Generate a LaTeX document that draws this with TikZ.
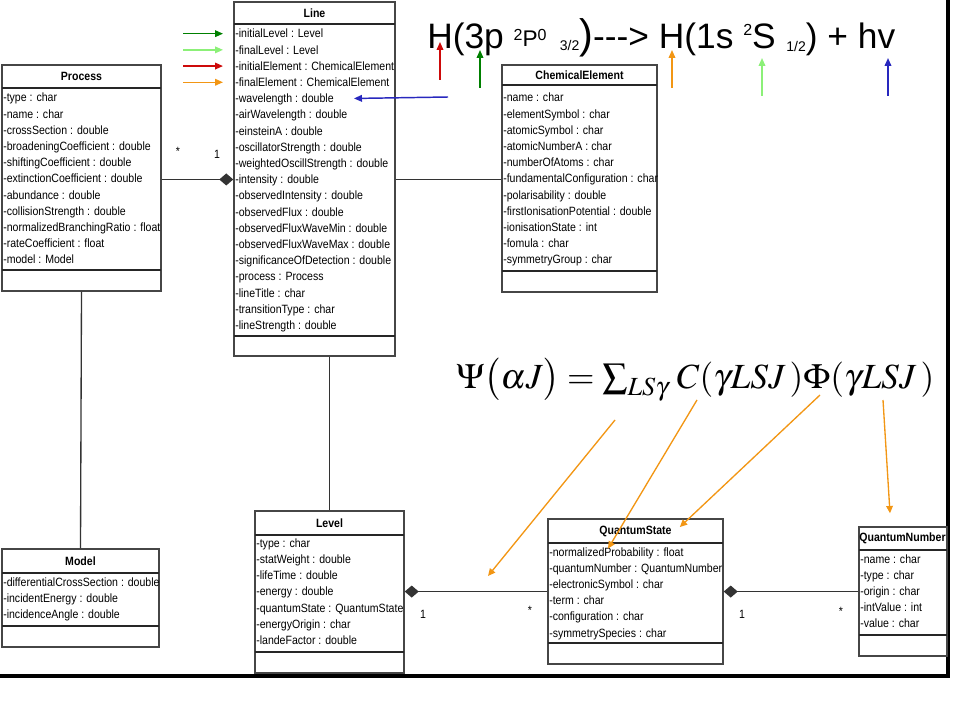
\documentclass[tikz,border=0pt]{standalone}
\usepackage{mathptmx}
\usepackage{fontspec}
\setmainfont{Liberation Sans}
\newfontfamily\umlfont{Liberation Sans}[FakeStretch=0.88]
\usepackage{tikz}
\usetikzlibrary{arrows.meta,fit,calc}

\definecolor{dkgreen}{RGB}{0,128,0}
\definecolor{ltgreen}{RGB}{140,240,120}
\definecolor{dkred}{RGB}{205,10,10}
\definecolor{orng}{RGB}{242,150,20}
\definecolor{ptrblue}{RGB}{40,40,190}
\definecolor{umlgray}{RGB}{70,70,70}

\begin{document}
\begin{tikzpicture}[x=0.75pt,y=0.75pt,yscale=-1,xscale=1,
  classbox/.style={draw=umlgray, line width=1.1pt, fill=white, inner sep=0pt},
  ctitle/.style={font=\umlfont\bfseries\fontsize{9}{10}\selectfont, inner sep=0pt},
  attr/.style={font=\umlfont\fontsize{9}{10}\selectfont, inner sep=0pt, anchor=base west, text height=6.5pt, text depth=0pt},
  sep/.style={draw=black!85, line width=1.1pt},
  assoc/.style={draw=black!80, line width=1pt},
  comp/.style={assoc, -{Diamond[length=10.5pt,width=9pt]}},
  mult/.style={font=\umlfont\fontsize{9}{10}\selectfont, inner sep=0pt},
  ptr/.style={line width=1.1pt, -{Triangle[length=6pt,width=5pt]}},
  eqptr/.style={orng, line width=1pt, -{Triangle[length=5.5pt,width=5pt]}}]
\useasboundingbox (0,0) rectangle (960,720);

%Frame lines
\draw[line width=3pt] (0,676) -- (948,676) -- (948,0);

%Class: Line
\node[classbox, fit={(234,2) (395,356)}] (line) {};
\draw[sep] (234,24) -- (395,24);
\draw[sep] (234,336) -- (395,336);
\node[ctitle] (line-t) at (314.5,13) {Line};
\foreach \a [count=\i] in {-initialLevel : Level, -finalLevel : Level, -initialElement : ChemicalElement, -finalElement : ChemicalElement, -wavelength : double, -airWavelength : double, -einsteinA : double, -oscillatorStrength : double, -weightedOscillStrength : double, -intensity : double, -observedIntensity : double, -observedFlux : double, -observedFluxWaveMin : double, -observedFluxWaveMax : double, -significanceOfDetection : double, -process : Process, -lineTitle : char, -transitionType : char, -lineStrength : double}
  \node[attr] (line-\i) at (235,{38+(\i-1)*16.2}) {\a};

%Class: Process
\node[classbox, fit={(2,65) (161,291)}] (process) {};
\draw[sep] (2,88) -- (161,88);
\draw[sep] (2,270) -- (161,270);
\node[ctitle] (process-t) at (81.5,76.5) {Process};
\foreach \a [count=\i] in {-type : char, -name : char, -crossSection : double, -broadeningCoefficient : double, -shiftingCoefficient : double, -extinctionCoefficient : double, -abundance : double, -collisionStrength : double, -normalizedBranchingRatio : float, -rateCoefficient : float, -model : Model}
  \node[attr] (process-\i) at (3,{102+(\i-1)*16.2}) {\a};

%Class: ChemicalElement
\node[classbox, fit={(502,65) (657,292)}] (chem) {};
\draw[sep] (502,85) -- (657,85);
\draw[sep] (502,271) -- (657,271);
\node[ctitle] (chem-t) at (579.5,75.5) {ChemicalElement};
\foreach \a [count=\i] in {-name : char, -elementSymbol : char, -atomicSymbol : char, -atomicNumberA : char, -numberOfAtoms : char, -fundamentalConfiguration : char, -polarisability : double, -firstIonisationPotential : double, -ionisationState : int, -fomula : char, -symmetryGroup : char}
  \node[attr] (chem-\i) at (503,{102+(\i-1)*16.2}) {\a};

%Class: Model
\node[classbox, fit={(2,549) (159,647)}] (model) {};
\draw[sep] (2,573) -- (159,573);
\draw[sep] (2,626) -- (159,626);
\node[ctitle] (model-t) at (80.5,561) {Model};
\foreach \a [count=\i] in {-differentialCrossSection : double, -incidentEnergy : double, -incidenceAngle : double}
  \node[attr] (model-\i) at (3,{586+(\i-1)*16.2}) {\a};

%Class: Level
\node[classbox, fit={(255,511) (404,673)}] (level) {};
\draw[sep] (255,535) -- (404,535);
\draw[sep] (255,652) -- (404,652);
\node[ctitle] (level-t) at (329.5,523) {Level};
\foreach \a [count=\i] in {-type : char, -statWeight : double, -lifeTime : double, -energy : double, -quantumState : QuantumState, -energyOrigin : char, -landeFactor : double}
  \node[attr] (level-\i) at (256,{547+(\i-1)*16.3}) {\a};

%Class: QuantumState
\node[classbox, fit={(548,519) (723,664)}] (qstate) {};
\draw[sep] (548,543) -- (723,543);
\draw[sep] (548,643) -- (723,643);
\node[ctitle] (qstate-t) at (635.5,531) {QuantumState};
\foreach \a [count=\i] in {-normalizedProbability : float, -quantumNumber : QuantumNumber, -electronicSymbol : char, -term : char, -configuration : char, -symmetrySpecies : char}
  \node[attr] (qstate-\i) at (549,{556+(\i-1)*16.2}) {\a};

%Class: QuantumNumber
\node[classbox, fit={(859,527) (947,656)}] (qnum) {};
\draw[sep] (859,550) -- (947,550);
\draw[sep] (859,635) -- (947,635);
\node[ctitle] (qnum-t) at (902.5,538.5) {QuantumNumber};
\foreach \a [count=\i] in {-name : char, -type : char, -origin : char, -intValue : int, -value : char}
  \node[attr] (qnum-\i) at (860,{563+(\i-1)*16.2}) {\a};

%Associations
\draw[comp] (process.east |- line-10) -- (line.west |- line-10);
\draw[assoc] (line.east |- line-10) -- (chem.west |- line-10);
\draw[assoc] (process.south) -- (model.north);
\draw[assoc] (line.south -| level.north) -- (level.north);
\draw[comp] (qstate.west |- level-4) -- (level.east |- level-4);
\draw[comp] (qnum.west |- level-4) -- (qstate.east |- level-4);

% Multiplicities
\node[mult] (m-pl-a) at (178,151) {*};
\node[mult] (m-pl-b) at (217,154) {1};
\node[mult] (m-lq-a) at (423,614) {1};
\node[mult] (m-lq-b) at (530,610) {*};
\node[mult] (m-qq-a) at (742,614) {1};
\node[mult] (m-qq-b) at (841,611) {*};

%Transition equation
\node[anchor=base west, inner sep=0pt, font=\fontsize{26.5}{28}\selectfont] (trans) at (427,49)
  {H(3p \raisebox{6pt}{\fontsize{12}{12}\selectfont 2}\raisebox{2pt}{\fontsize{17}{17}\selectfont P}\raisebox{6pt}{\fontsize{12}{12}\selectfont 0}\hspace{10pt}\raisebox{-1pt}{\fontsize{10.5}{11}\selectfont 3/2}{\fontsize{31}{31}\selectfont )}\mbox{-}\mbox{-}\mbox{-}> H(1s \raisebox{10pt}{\fontsize{12}{12}\selectfont 2}S\hspace{8pt}\raisebox{-2pt}{\fontsize{10.5}{11}\selectfont 1/2}) + hv};

%Pointers to Line attributes
\foreach \i/\c in {1/dkgreen, 2/ltgreen, 3/dkred, 4/orng}
  \draw[ptr, \c] ($(line-\i.west)+(-52,0)$) -- ($(line-\i.west)+(-12,0)$);
\coordinate (wl-tail) at (448,97);
\draw[ptr, ptrblue] (wl-tail) -- ($(line-5.east)+(20,0)$);

%Pointers to the transition terms
\foreach \x/\t/\c in {440/80/dkred, 480/88/dkgreen, 672/88/orng, 762/96/ltgreen, 888/96/ptrblue} {
  \coordinate (up-\x) at (\x,\t);
  \draw[ptr, \c] (up-\x) -- ++(0,-38);
}

%Wave function
\node[anchor=base west, inner sep=0pt, font=\fontsize{26.5}{27}\selectfont] (psi) at (456,388)
  {$\Psi\bigl(\alpha J\bigr) = \sum\nolimits_{LS\gamma}\, C(\gamma LSJ\,)\Phi(\gamma LSJ\,)$};

\coordinate (psi-sum) at (615,420);
\coordinate (psi-c) at (697,400);
\coordinate (psi-phi) at (820,395);
\coordinate (psi-gls) at (883,400);
\coordinate (lq-mid) at (488,576);
\draw[eqptr] (psi-sum) -- (lq-mid);
\draw[eqptr] (psi-c) -- ($(qstate-1.west)+(59,-3)$);
\draw[eqptr] (psi-phi) -- ($(qstate-t.east)+(8,-4)$);
\draw[eqptr] (psi-gls) -- ($(qnum.north)+(-13,-13)$);

\end{tikzpicture}
\end{document}
